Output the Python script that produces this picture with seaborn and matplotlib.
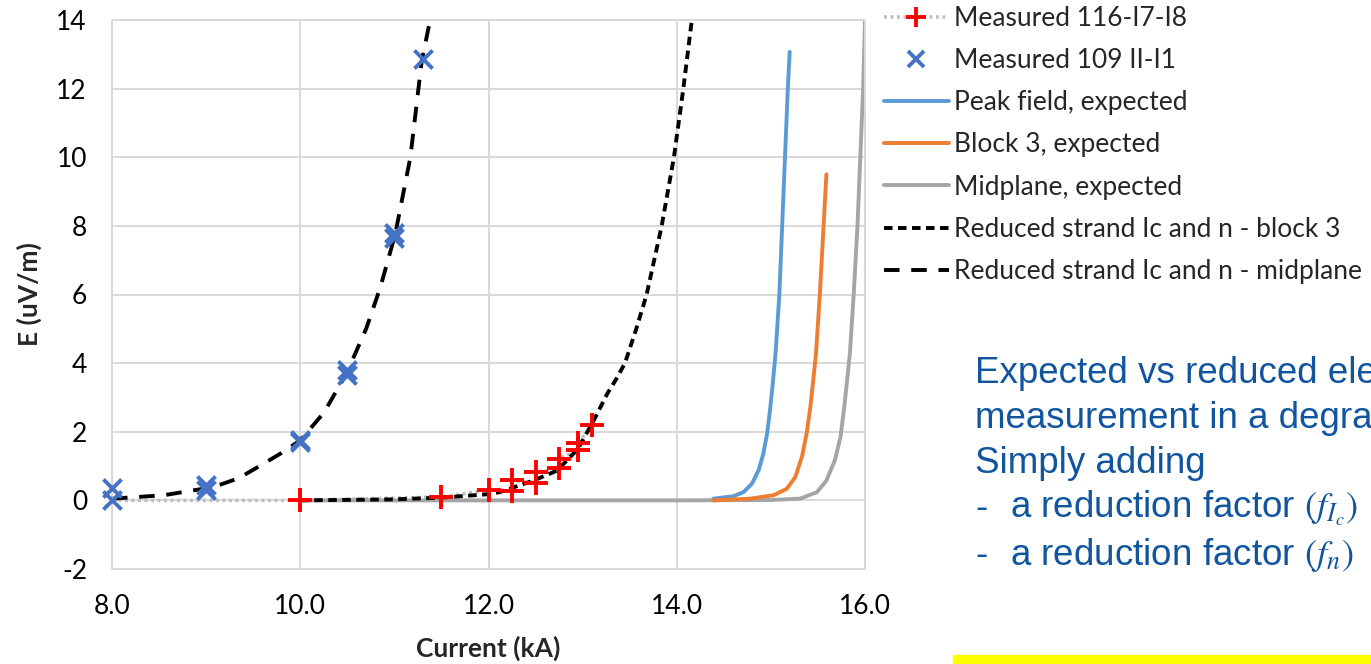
import matplotlib
matplotlib.use("Agg")
import matplotlib.pyplot as plt
from matplotlib.lines import Line2D
from matplotlib.patches import Rectangle
import matplotlib.ticker as ticker
import seaborn as sns


## data ##
# measured, 116-I7-I8 (markers only from 10 kA on, dotted line from 8 kA)
meas116_I = [8.0, 9.0, 10.0, 11.5, 12.0, 12.25, 12.25, 12.5, 12.5, 12.75, 12.75, 12.95, 12.95, 13.1]
meas116_E = [0.0, 0.0, 0.0, 0.1, 0.3, 0.28, 0.58, 0.52, 0.82, 0.93, 1.22, 1.46, 1.66, 2.19]

# measured, 109 II-I1
meas109_I = [8.0, 8.0, 9.0, 9.0, 10.0, 10.0, 10.5, 10.5, 11.0, 11.0, 11.3]
meas109_E = [0.35, 0.0, 0.45, 0.3, 1.75, 1.7, 3.8, 3.65, 7.8, 7.65, 12.85]

# expected curves
peak_I = [14.39, 14.60, 14.71, 14.80, 14.87, 14.92, 14.96, 14.99, 15.02, 15.05, 15.09, 15.12, 15.15, 15.18, 15.20]
peak_E = [0.05, 0.12, 0.24, 0.49, 0.88, 1.36, 1.95, 2.6, 3.4, 4.3, 6.0, 8.0, 10.0, 12.0, 13.07]

block3_I = [14.39, 14.78, 15.03, 15.17, 15.26, 15.33, 15.38, 15.42, 15.45, 15.48, 15.52, 15.56, 15.59]
block3_E = [0.0, 0.05, 0.15, 0.34, 0.68, 1.27, 1.95, 2.73, 3.5, 4.3, 6.0, 8.0, 9.5]

mid_I = [10.0, 12.0, 14.0, 15.0, 15.31, 15.49, 15.59, 15.68, 15.74, 15.78, 15.81, 15.84, 15.88, 15.92, 15.95, 15.98, 16.0]
mid_E = [0.0, 0.0, 0.0, 0.01, 0.05, 0.24, 0.58, 1.17, 1.85, 2.73, 3.5, 4.3, 6.0, 8.0, 10.0, 12.0, 14.0]

# reduced strand Ic and n
red_b3_I = [10.0, 11.0, 11.5, 12.0, 12.12, 12.48, 12.73, 12.95, 13.12, 13.26, 13.36, 13.45, 13.57, 13.68, 13.84, 13.97, 14.07, 14.16]
red_b3_E = [0.0, 0.03, 0.08, 0.18, 0.24, 0.58, 0.87, 1.5, 2.34, 3.1, 3.55, 4.0, 5.0, 6.0, 8.0, 10.0, 12.0, 14.0]

red_mid_I = [8.0, 8.55, 9.08, 9.35, 9.61, 9.8, 10.0, 10.25, 10.49, 10.7, 10.85, 11.01, 11.17, 11.29, 11.38]
red_mid_E = [0.05, 0.15, 0.39, 0.65, 1.07, 1.38, 1.75, 2.55, 3.69, 5.0, 6.2, 7.77, 10.0, 12.8, 14.0]

labels = ['Measured 116-I7-I8', 'Measured 109 II-I1', 'Peak field, expected',
          'Block 3, expected', 'Midplane, expected',
          'Reduced strand Ic and n - block 3', 'Reduced strand Ic and n - midplane']

note_lines = ['Expected vs reduced electric field',
              'measurement in a degraded coil',
              'Simply adding']
note_bullets = ['a reduction factor $(f_{I_c})$', 'a reduction factor $(f_n)$']

c_peak, c_block, c_mid = '#5B9BD5', '#ED7D31', '#A5A5A5'
c_x = '#4472C4'
c_note = '#11559F'


## figure ##
sns.set_style("whitegrid", {"grid.color": "#D9D9D9", "axes.edgecolor": "#D9D9D9"})
plt.rcParams['font.family'] = ['Lato', 'DejaVu Sans']
plt.rcParams['mathtext.fontset'] = 'stix'
plt.rcParams['axes.unicode_minus'] = False

fig = plt.figure(figsize=(13.71, 6.64), dpi=100)
ax = fig.add_axes([112 / 1371, 1 - 569 / 664, (865 - 112) / 1371, (569 - 20) / 664])

lw = 2.8
dot116 = (0, (0.8, 1.0))
dash_b3 = (0, (2.2, 1.4))
dash_mid = (0, (4.0, 3.0))

sns.lineplot(x=meas116_I, y=meas116_E, ax=ax, color='#BFBFBF', linestyle=dot116,
             linewidth=2.6, estimator=None, sort=False)
sns.lineplot(x=mid_I, y=mid_E, ax=ax, color=c_mid, linewidth=lw, estimator=None, sort=False)
sns.lineplot(x=peak_I, y=peak_E, ax=ax, color=c_peak, linewidth=lw, estimator=None, sort=False)
sns.lineplot(x=block3_I, y=block3_E, ax=ax, color=c_block, linewidth=lw, estimator=None, sort=False)
sns.lineplot(x=red_b3_I, y=red_b3_E, ax=ax, color='black', linestyle=dash_b3,
             linewidth=lw, estimator=None, sort=False)
sns.lineplot(x=red_mid_I, y=red_mid_E, ax=ax, color='black', linestyle=dash_mid,
             linewidth=lw, estimator=None, sort=False)

mk116_I = [i for i in meas116_I if i >= 10.0]
mk116_E = [e for i, e in zip(meas116_I, meas116_E) if i >= 10.0]
sns.scatterplot(x=mk116_I, y=mk116_E, ax=ax, marker='+', color='red', s=300,
                linewidth=2.8, zorder=5, clip_on=False)
sns.scatterplot(x=meas109_I, y=meas109_E, ax=ax, marker='x', color=c_x, s=170,
                linewidth=2.8, zorder=5, clip_on=False)

ax.set_xlim(8, 16)
ax.set_ylim(-2, 14)
ax.xaxis.set_major_locator(ticker.MultipleLocator(2))
ax.yaxis.set_major_locator(ticker.MultipleLocator(2))
ax.xaxis.set_major_formatter(ticker.FormatStrFormatter('%.1f'))
ax.tick_params(axis='both', labelsize=19, length=0, pad=18, colors='black')
ax.grid(True, linewidth=1.4)
for s in ax.spines.values():
    s.set_linewidth(1.4)
ax.set_xlabel('Current (kA)', fontsize=19, fontweight='bold', labelpad=12)
ax.set_ylabel('E (uV/m)', fontsize=19, fontweight='bold', labelpad=10)

# legend
handles = [
    Line2D([], [], color='#BFBFBF', linestyle=dot116, linewidth=2.6,
           marker='+', markeredgecolor='red', markersize=14, markeredgewidth=2.8),
    Line2D([], [], linestyle='none', marker='x', color=c_x, markersize=11, markeredgewidth=2.8),
    Line2D([], [], color=c_peak, linewidth=lw),
    Line2D([], [], color=c_block, linewidth=lw),
    Line2D([], [], color=c_mid, linewidth=lw),
    Line2D([], [], color='black', linestyle=dash_b3, linewidth=lw),
    Line2D([], [], color='black', linestyle=dash_mid, linewidth=lw),
]
fig.legend(handles, labels, loc='upper left', bbox_to_anchor=(884 / 1371, 1 - 6 / 664),
           frameon=False, fontsize=19.0, handlelength=2.45, handletextpad=0.2,
           labelspacing=0.65, borderpad=0, borderaxespad=0)

# note text
nfs = 26.5
for k, line in enumerate(note_lines):
    fig.text(975 / 1371, 1 - (383 + 45 * k) / 664, line, color=c_note, fontsize=nfs,
             family='Liberation Sans', va='baseline', ha='left')
for k, line in enumerate(note_bullets):
    y = 1 - (518 + 47 * k) / 664
    fig.text(975 / 1371, y, '-', color=c_note, fontsize=nfs, family='Liberation Sans', va='baseline')
    fig.text(1010 / 1371, y, line, color=c_note, fontsize=nfs, family='Liberation Sans', va='baseline')

fig.patches.append(Rectangle((953 / 1371, 0), 1 - 953 / 1371, 9 / 664, transform=fig.transFigure,
                             color='#FFFF00', zorder=0))

fig.savefig('out.png', dpi=100)
